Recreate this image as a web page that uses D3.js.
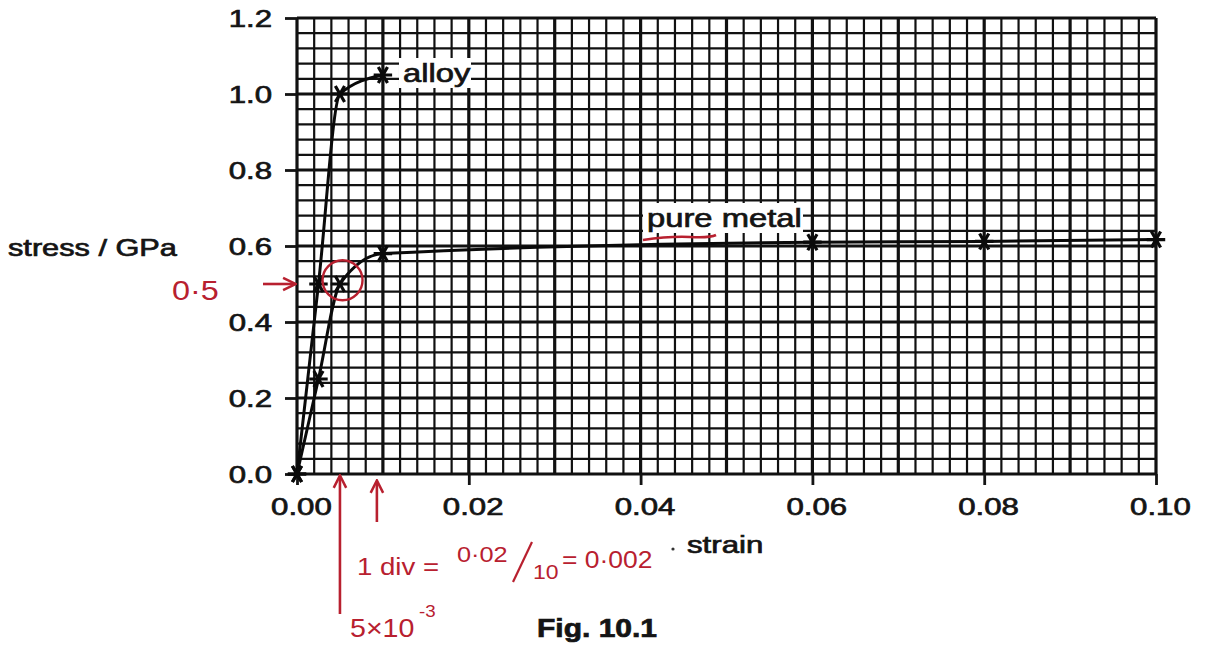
<!DOCTYPE html>
<html>
<head>
<meta charset="utf-8">
<script src="https://cdn.jsdelivr.net/npm/d3@7"></script>
<style>
  body { margin: 0; background: #fff; }
  text { font-family: "Liberation Sans", Arial, sans-serif; fill: #141414; }
  .ink { stroke: #141414; stroke-width: 0.7px; }
  .red { fill: #b8202f; }
</style>
</head>
<body>
<div id="chart"></div>
<script>
// values
const strainAlloy = [0, 0.0025, 0.005, 0.01]
const stressAlloy = [0, 0.5, 1.0, 1.05]
const strainPure = [0, 0.0025, 0.005, 0.01, 0.06, 0.08, 0.10]
const stressPure = [0, 0.25, 0.5, 0.58, 0.61, 0.612, 0.617]
const xTicks = [0, 0.02, 0.04, 0.06, 0.08, 0.10]
const yTicks = [0, 0.2, 0.4, 0.6, 0.8, 1.0, 1.2]

const W = 1206, H = 646
const SX = 1.3   // the scan is stretched sideways, so text is too
const RED = '#b8202f'

const svg = d3.select('#chart').append('svg')
    .attr('width', W)
    .attr('height', H)

const x = d3.scaleLinear().domain([0, 0.1]).range([297, 1156])
const y = d3.scaleLinear().domain([0, 1.2]).range([474, 18])

// stretched text helper
function stext(g, px, py, str, size, anchor, cls, sx) {
  return g.append('text')
    .attr('transform', `translate(${px},${py}) scale(${sx || SX},1)`)
    .attr('text-anchor', anchor || 'start')
    .attr('class', cls || null)
    .style('font-size', size + 'px')
    .text(str)
}

// graph paper
const grid = svg.append('g')
const xMinor = d3.range(0, 0.1 + 1e-9, 0.002)
const yMinor = d3.range(0, 1.2 + 1e-9, 0.04)
const isMajorX = d => Math.abs(d / 0.01 - Math.round(d / 0.01)) < 1e-6
const isMajorY = d => Math.abs(d / 0.2 - Math.round(d / 0.2)) < 1e-6

grid.selectAll('line.vx')
    .data(xMinor.sort((a, b) => isMajorX(a) - isMajorX(b)))
    .enter().append('line')
    .attr('x1', d => x(d)).attr('x2', d => x(d))
    .attr('y1', y(0)).attr('y2', y(1.2))
    .attr('stroke', '#111')
    .attr('stroke-width', d => isMajorX(d) ? 3.2 : 2.2)

grid.selectAll('line.hy')
    .data(yMinor.sort((a, b) => isMajorY(a) - isMajorY(b)))
    .enter().append('line')
    .attr('y1', d => y(d)).attr('y2', d => y(d))
    .attr('x1', x(0)).attr('x2', x(0.1))
    .attr('stroke', '#111')
    .attr('stroke-width', d => isMajorY(d) ? 3.2 : 2.2)

// axes
const xAxis = svg.append('g')
    .attr('transform', `translate(0,${y(0)})`)
    .call(d3.axisBottom(x).tickValues(xTicks).tickFormat(d3.format('.2f')).tickSize(11).tickPadding(0))
xAxis.select('.domain').remove()
xAxis.selectAll('line').attr('stroke', '#141414').attr('stroke-width', 2.8)
xAxis.selectAll('text')
    .attr('x', 3).attr('y', 41).attr('dy', null)
    .attr('transform', `scale(${SX},1)`)
    .attr('fill', '#141414')
    .attr('class', 'ink')
    .style('font-size', '24px')
    .style('font-family', '"Liberation Sans", Arial, sans-serif')

const yAxis = svg.append('g')
    .attr('transform', `translate(${x(0)},0)`)
    .call(d3.axisLeft(y).tickValues(yTicks).tickFormat(d3.format('.1f')).tickSize(12).tickPadding(0))
yAxis.select('.domain').remove()
yAxis.selectAll('line').attr('stroke', '#141414').attr('stroke-width', 2.8)
yAxis.selectAll('text')
    .attr('x', -25 / SX).attr('dy', '0.36em')
    .attr('transform', `scale(${SX},1)`)
    .attr('fill', '#141414')
    .attr('class', 'ink')
    .style('font-size', '24px')
    .style('font-family', '"Liberation Sans", Arial, sans-serif')

// curves
const line = d3.line()
    .x(d => x(d[0]))
    .y(d => y(d[1]))
    .curve(d3.curveMonotoneX)

const alloy = strainAlloy.map((s, i) => [s, stressAlloy[i]])
const pure = strainPure.map((s, i) => [s, stressPure[i]])

svg.selectAll('path.curve')
    .data([alloy, pure])
    .enter().append('path')
    .attr('class', 'curve')
    .attr('d', line)
    .attr('fill', 'none')
    .attr('stroke', '#0a0a0a')
    .attr('stroke-width', 3)

const star = d3.symbol().type(d3.symbolAsterisk).size(240)
svg.selectAll('path.pt')
    .data(alloy.concat(pure))
    .enter().append('path')
    .attr('class', 'pt')
    .attr('d', star)
    .attr('transform', d => `translate(${x(d[0])},${y(d[1])}) rotate(90)`)
    .attr('fill', 'none')
    .attr('stroke', '#0a0a0a')
    .attr('stroke-width', 3.2)

// curve labels on white patches
function label(px, py, str, w) {
  svg.append('rect')
      .attr('x', px - 4).attr('y', py - 24)
      .attr('width', w).attr('height', 30)
      .attr('fill', '#fff')
  stext(svg, px, py, str, 26, 'start', 'ink', 1.26)
}
label(403, 82, 'alloy', 72)
label(647, 227, 'pure metal', 160)

// axis titles
stext(svg, 8, 256, 'stress / GPa', 24, 'start', 'ink', 1.28)
stext(svg, 687, 553, 'strain', 24, 'start', 'ink')
svg.append('circle').attr('cx', 673).attr('cy', 549).attr('r', 1.6).attr('fill', '#333')
stext(svg, 537, 637, 'Fig. 10.1', 25, 'start', 'ink', 1.2).style('font-weight', 'bold')

// red pen annotations
const ann = svg.append('g')
const defs = svg.append('defs')
defs.append('marker')
    .attr('id', 'ah').attr('viewBox', '0 0 10 10')
    .attr('refX', 8).attr('refY', 5)
    .attr('markerWidth', 6).attr('markerHeight', 6)
    .attr('orient', 'auto-start-reverse')
  .append('path')
    .attr('d', 'M1,1 L9,5 L1,9')
    .attr('fill', 'none').attr('stroke', RED).attr('stroke-width', 1.6)

ann.append('circle')
    .attr('cx', x(0.0053)).attr('cy', y(0.51))
    .attr('r', 20)
    .attr('fill', 'none').attr('stroke', RED).attr('stroke-width', 2.4)

function arrow(x1, y1, x2, y2) {
  ann.append('line')
      .attr('x1', x1).attr('y1', y1).attr('x2', x2).attr('y2', y2)
      .attr('stroke', RED).attr('stroke-width', 2.6)
      .attr('marker-end', 'url(#ah)')
}
arrow(263, y(0.5), 294, y(0.5))
arrow(x(0.005), 614, x(0.005), 477)
arrow(x(0.0093), 522, x(0.0093), 482)

stext(ann, 172, 300, '0·5', 27, 'start', 'red', 1.2)
stext(ann, 357, 575, '1 div =', 24, 'start', 'red', 1.15)
stext(ann, 457, 562, '0·02', 22, 'start', 'red', 1.15)
ann.append('line')
    .attr('x1', 513).attr('y1', 582).attr('x2', 532).attr('y2', 542)
    .attr('stroke', RED).attr('stroke-width', 2.2)
stext(ann, 533, 579, '10', 20, 'start', 'red', 1.15)
stext(ann, 562, 568, '= 0·002', 23, 'start', 'red', 1.15)
stext(ann, 350, 637, '5×10', 26, 'start', 'red', 1.1)
stext(ann, 419, 617, '-3', 17, 'start', 'red', 1.1)

ann.append('path')
    .attr('d', 'M643,240 Q670,236 690,237 T716,235')
    .attr('fill', 'none').attr('stroke', RED).attr('stroke-width', 2.6)
</script>
</body>
</html>
